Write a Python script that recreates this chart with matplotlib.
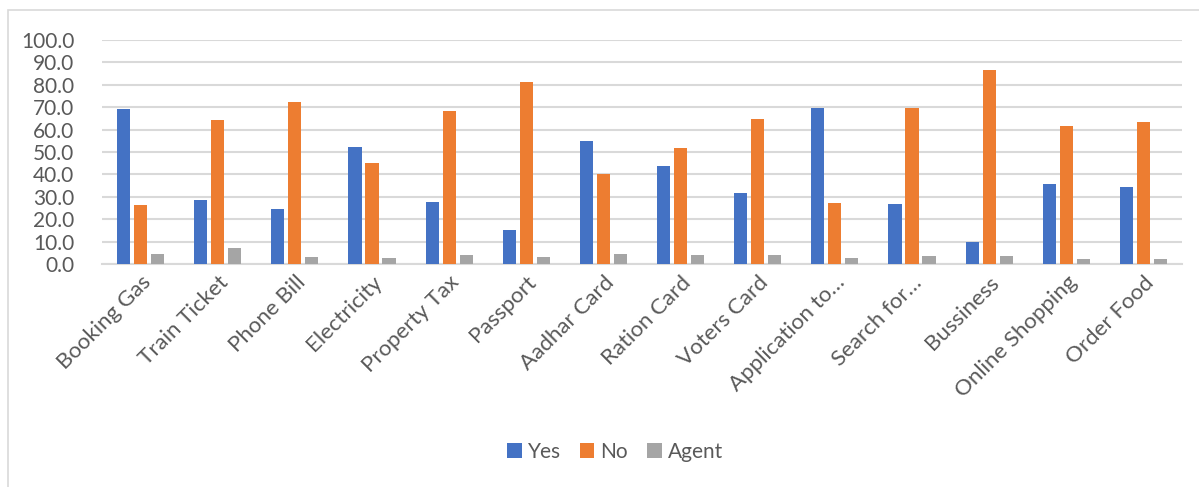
import numpy as np
import matplotlib.pyplot as plt
from matplotlib.patches import Rectangle

categories = ['Booking Gas', 'Train Ticket', 'Phone Bill', 'Electricity', 'Property Tax',
              'Passport', 'Aadhar Card', 'Ration Card', 'Voters Card', 'Application to…',
              'Search for…', 'Bussiness', 'Online Shopping', 'Order Food']
yes = [69.2, 28.7, 24.7, 52.2, 27.8, 15.3, 54.8, 43.8, 31.5, 69.8, 26.7, 9.7, 35.7, 34.5]
no = [26.4, 64.2, 72.4, 45.0, 68.1, 81.1, 40.4, 51.9, 64.6, 27.3, 69.8, 86.6, 61.8, 63.3]
agent = [4.5, 7.0, 3.1, 2.8, 3.9, 3.3, 4.5, 4.2, 3.9, 2.8, 3.6, 3.6, 2.4, 2.4]

plt.rcParams['font.family'] = ['Lato', 'DejaVu Sans']
txt = '#595959'

fig = plt.figure(figsize=(11.99, 4.87), dpi=100)
ax = fig.add_axes([102/1199, 223/487, 1080/1199, 224/487])

# outer chart border (only top and left visible)
fig.patches.append(Rectangle((8/1199, -0.1), 1.2, 0.1 + 477/487, transform=fig.transFigure,
                             fill=False, edgecolor='#d9d9d9', linewidth=1.2))

x = np.arange(len(categories))
w = 0.17
ax.bar(x - 0.22, yes, w, color='#4472C4', label='Yes', zorder=3)
ax.bar(x, no, w, color='#ED7D31', label='No', zorder=3)
ax.bar(x + 0.22, agent, w, color='#A5A5A5', label='Agent', zorder=3)

ax.set_xlim(-0.5, len(categories) - 0.5)
ax.set_ylim(0, 100)
ax.set_yticks(np.arange(0, 101, 10))
ax.set_yticklabels(['%.1f' % v for v in np.arange(0, 101, 10)], fontsize=15, color=txt)
ax.yaxis.grid(True, color='#d9d9d9', linewidth=1.5, zorder=0)
ax.set_xticks(x)
ax.set_xticklabels(categories, rotation=45, ha='right', rotation_mode='anchor',
                   fontsize=16, color=txt)
ax.tick_params(axis='both', length=0)
ax.tick_params(axis='y', pad=20)
ax.tick_params(axis='x', pad=6)
for s in ['top', 'right', 'left']:
    ax.spines[s].set_visible(False)
ax.spines['bottom'].set_color('#d9d9d9')
ax.spines['bottom'].set_linewidth(1.5)

fig.legend(loc='center', bbox_to_anchor=(615/1199, 1 - 452/487), ncol=3, frameon=False,
           fontsize=15, labelcolor=txt, handlelength=0.7, handleheight=0.7,
           handletextpad=0.3, columnspacing=0.9)

plt.savefig('out.png', dpi=100)
